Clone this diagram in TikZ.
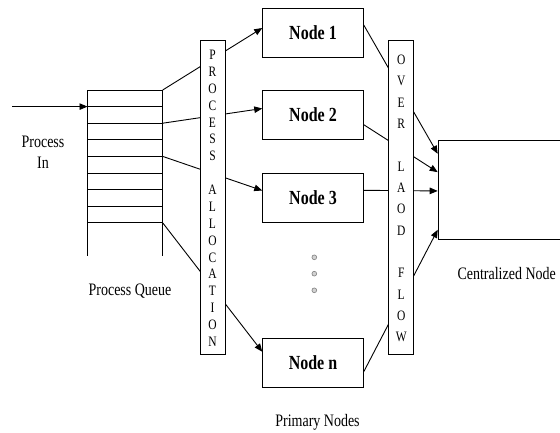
\documentclass[tikz,border=0pt]{standalone}
\usepackage{fontspec}
\setmainfont{Liberation Serif}
\usepackage{graphicx}
\usetikzlibrary{arrows.meta,calc}
\newcommand\vs[1]{\scalebox{1}[1.25]{#1}}
\begin{document}
\begin{tikzpicture}[x=1pt,y=-1pt,line width=0.9pt,
  tip/.style={-{Triangle[length=8pt,width=6.5pt]}},
  pnode/.style={draw,fill=white,minimum width=100.6pt,minimum height=49pt,inner sep=0pt,font=\fontsize{16}{16}\selectfont\bfseries},
  bar/.style={draw,fill=white,minimum width=24.6pt,minimum height=313.6pt,inner sep=0pt},
  lbl/.style={font=\fontsize{14}{14}\selectfont,inner sep=0pt},
  letter/.style={font=\fontsize{11.5}{11.5}\selectfont,inner sep=0pt},
  dotc/.style={circle,draw=gray,fill=gray!35,line width=0.6pt,minimum size=4.8pt,inner sep=0pt}]
\useasboundingbox (0,0) rectangle (560,432);
% process queue
\foreach \i in {0,...,8}{
  \draw (87.5,90+\i*16.6) -- (162.7,90+\i*16.6) coordinate (q\i);
}
\draw (87.5,90) -- (87.5,256);
\draw (162.7,90) -- (162.7,256);
\coordinate (ql1) at (87.5,106.6);
\coordinate (pin) at (12,106.6);
\draw[tip] (pin) -- (ql1);
\node[lbl] (pintxt) at (43,141.7) {\vs{Process}};
\node[lbl] (pintxt2) at (43,162.7) {\vs{In}};
\node[lbl] (pq) at (130,290.7) {\vs{Process Queue}};
% primary nodes
\node[pnode] (n1) at (313,32.8) {\vs{Node 1}};
\node[pnode] (n2) at (313,115) {\vs{Node 2}};
\node[pnode] (n3) at (313,198) {\vs{Node 3}};
\node[pnode] (nn) at (313,362.7) {\vs{Node n}};
\foreach \y [count=\k] in {257.3,273.7,290.3}{
  \node[dotc] (dot\k) at (314.3,\y) {};
}
\node[lbl] (prim) at (317.5,422.7) {\vs{Primary Nodes}};
% centralized node
\node[draw,fill=white,anchor=north west,minimum width=135pt,minimum height=99pt,inner sep=0pt] (cen) at (437.7,140) {};
\node[lbl] (centxt) at (506.7,274) {\vs{Centralized Node}};
% allocation connectors
\draw[tip] (q0) -- ([yshift=4.8pt]n1.west);
\draw[tip] (q2) -- ([yshift=6.5pt]n2.west);
\draw[tip] (q4) -- ([yshift=7.5pt]n3.west);
\draw[tip] (q8) -- ([yshift=11pt]nn.west);
% overload connectors
\draw[tip] ([yshift=7.8pt]n1.east) -- ([yshift=36.2pt]cen.west);
\draw[tip] ([yshift=-9.7pt]n2.east) -- ([yshift=17.8pt]cen.west);
\draw[tip] ([yshift=7.7pt]n3.east) -- ([yshift=-1pt]cen.west);
\draw[tip] ([yshift=-9pt]nn.east) -- ([yshift=-39.8pt]cen.west);
% bars
\node[bar] (pa) at (213,197.5) {};
\node[bar] (ol) at (400.7,197.5) {};
\foreach \c [count=\k from 0] in {P,R,O,C,E,S,S,,A,L,L,O,C,A,T,I,O,N}{
  \node[letter] (pa\k) at (212.5,55+\k*16.86) {\vs{\c}};
}
\foreach \c [count=\k from 0] in {O,V,E,R,,L,A,O,D,,F,L,O,W}{
  \node[letter] (ol\k) at (401.2,60+\k*21.3) {\vs{\c}};
}
\end{tikzpicture}
\end{document}
